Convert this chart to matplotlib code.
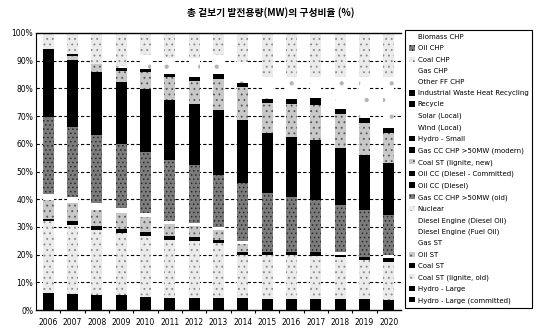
import numpy as np
import matplotlib.pyplot as plt
from matplotlib.patches import Patch

plt.rcParams['font.family'] = ['DejaVu Sans']
plt.rcParams['hatch.linewidth'] = 0.6

years = ['2006', '2007', '2008', '2009', '2010', '2011', '2012', '2013',
         '2014', '2015', '2016', '2017', '2018', '2019', '2020']

# share of installed capacity (%), one list per technology
hydro_large_committed = [0, 0, 0, 0, 0, 0, 0, 0, 0, 0, 0, 0, 0, 0, 0]
hydro_large = [6.0, 5.8, 5.5, 5.5, 4.8, 4.5, 4.5, 4.5, 4.5, 3.9, 3.9, 4.0, 4.0, 4.0, 3.6]
coal_lignite_old = [26.0, 24.9, 23.4, 22.2, 21.9, 20.8, 20.4, 19.8, 15.3, 16.1, 16.1, 15.6, 15.0, 14.0, 13.9]
coal_st = [1.0, 1.4, 1.4, 1.4, 1.6, 1.4, 1.6, 1.0, 1.0, 1.0, 1.0, 1.2, 0.9, 1.0, 1.2]
oil_st = [6.7, 6.5, 5.8, 5.8, 5.4, 4.3, 4.0, 3.7, 3.2, 0, 0, 0, 0, 0, 0]
gas_st = [2.3, 2.3, 2.6, 1.8, 1.4, 1.0, 1.0, 1.0, 1.0, 0, 0, 0, 0.9, 0, 1.1]
diesel_fuel_oil = [0, 0, 0, 0, 0, 0, 0, 0, 0, 0, 0, 0, 0, 0, 0]
diesel_diesel_oil = [0, 0, 0, 0, 0, 0, 0, 0, 0, 0, 0, 0, 0, 0, 0]
nuclear = [0, 0, 0, 0, 0, 0, 0, 0, 0, 0, 0, 0, 0, 0, 0]
gas_cc_old = [27.8, 25.3, 24.5, 23.2, 22.1, 22.2, 20.8, 18.7, 20.7, 21.1, 19.9, 18.9, 17.1, 17.1, 14.5]
oil_cc_diesel = [24.3, 24.1, 22.8, 22.5, 22.5, 21.6, 22.1, 23.5, 22.9, 21.7, 21.7, 21.7, 20.5, 19.9, 18.7]
oil_cc_committed = [0, 0, 0, 0, 0, 0, 0, 0, 0, 0, 0, 0, 0, 0, 0]
coal_lignite_new = [0, 1.5, 2.7, 3.9, 6.3, 8.2, 8.4, 11.1, 11.8, 10.8, 11.8, 12.6, 12.4, 11.4, 10.8]
gas_cc_modern = [0, 0.7, 0, 0.9, 0.9, 1.2, 1.4, 1.8, 1.4, 1.6, 1.8, 2.6, 1.8, 2.0, 1.8]
hydro_small = [0, 0, 0, 0, 0, 0, 0, 0, 0, 0, 0, 0, 0, 0, 0]
wind_local = [0, 0, 0, 0.8, 5.1, 5.8, 6.8, 6.9, 7.8, 7.8, 7.8, 7.4, 11.4, 14.6, 18.4]
solar_local = [0, 0, 0, 0, 0, 0, 0, 0, 0, 0, 0, 0, 0, 0, 0]
recycle = [0, 0, 0, 0, 0, 0, 0, 0, 0, 0, 0, 0, 0, 0, 0]
industrial_waste_heat = [0, 0, 0, 0, 0, 0, 0, 0, 0, 0, 0, 0, 0, 0, 0]
other_ff_chp = [0, 0, 0, 0, 0, 0, 0, 0, 0, 0, 0, 0, 0, 0, 0]
gas_chp = [0, 0, 0, 0, 0, 0, 0, 0, 0, 0, 0, 0, 0, 0, 0]
coal_chp = [5.9, 7.5, 11.3, 12.0, 8.0, 9.0, 9.0, 8.0, 10.4, 16.0, 16.0, 16.0, 16.0, 16.0, 16.0]
oil_chp = [0, 0, 0, 0, 0, 0, 0, 0, 0, 0, 0, 0, 0, 0, 0]
biomass_chp = [0, 0, 0, 0, 0, 0, 0, 0, 0, 0, 0, 0, 0, 0, 0]

# fill styles imitating the printed screen tones
fills = {
    'black': dict(facecolor='black', edgecolor='black'),
    'dark': dict(facecolor='#7c7c7c', edgecolor='#2a2a2a', hatch='....'),
    'medium': dict(facecolor='#c8c8c8', edgecolor='#555555', hatch='...'),
    'light': dict(facecolor='#ebebeb', edgecolor='#888888', hatch='...'),
    'sparse': dict(facecolor='white', edgecolor='#b4b4b4', hatch='.'),
    'white': dict(facecolor='white', edgecolor='white'),
}

# bottom of the stack first
series = [
    ('Hydro - Large (committed)', hydro_large_committed, 'black'),
    ('Hydro - Large', hydro_large, 'black'),
    ('Coal ST (lignite, old)', coal_lignite_old, 'light'),
    ('Coal ST', coal_st, 'black'),
    ('Oil ST', oil_st, 'medium'),
    ('Gas ST', gas_st, 'white'),
    ('Diesel Engine (Fuel Oil)', diesel_fuel_oil, 'white'),
    ('Diesel Engine (Diesel Oil)', diesel_diesel_oil, 'white'),
    ('Nuclear', nuclear, 'light'),
    ('Gas CC CHP >50MW (old)', gas_cc_old, 'dark'),
    ('Oil CC (Diesel)', oil_cc_diesel, 'black'),
    ('Oil CC (Diesel - Committed)', oil_cc_committed, 'black'),
    ('Coal ST (lignite, new)', coal_lignite_new, 'medium'),
    ('Gas CC CHP >50MW (modern)', gas_cc_modern, 'black'),
    ('Hydro - Small', hydro_small, 'black'),
    ('Wind (Local)', wind_local, 'sparse'),
    ('Solar (Local)', solar_local, 'white'),
    ('Recycle', recycle, 'black'),
    ('Industrial Waste Heat Recycling', industrial_waste_heat, 'black'),
    ('Other FF CHP', other_ff_chp, 'white'),
    ('Gas CHP', gas_chp, 'white'),
    ('Coal CHP', coal_chp, 'light'),
    ('Oil CHP', oil_chp, 'dark'),
    ('Biomass CHP', biomass_chp, 'white'),
]

fig = plt.figure(figsize=(5.41, 3.28), dpi=100)
ax = fig.add_axes([36 / 541, 1 - 310 / 328, 365 / 541, 277 / 328])

x = np.arange(len(years))
bottom = np.zeros(len(years))
handles = []
for name, vals, style in series:
    vals = np.array(vals, dtype=float)
    ax.bar(x, vals, 0.44, bottom=bottom, linewidth=0, zorder=2, **fills[style])
    handles.append(Patch(linewidth=0, label=name, **fills[style]))
    bottom += vals

ax.set_xlim(-0.5, len(years) - 0.5)
ax.set_ylim(0, 100)
ax.set_yticks(np.arange(0, 101, 10))
ax.set_yticklabels([f'{v}%' for v in range(0, 101, 10)])
ax.set_xticks(x)
ax.set_xticklabels(years)
ax.set_xticks(x[:-1] + 0.5, minor=True)
ax.tick_params(axis='y', length=0, pad=2, labelsize=5.5)
ax.tick_params(axis='x', which='major', length=0, pad=6, labelsize=5.5)
ax.tick_params(axis='x', which='minor', length=2, width=0.8, direction='out')

for yv in range(10, 100, 10):
    ax.axhline(yv, color='black', lw=0.8, ls=(0, (3, 2)), zorder=1)

ax.spines['right'].set_visible(False)
ax.spines['left'].set_linestyle((0, (1, 1)))
ax.spines['left'].set_linewidth(0.8)
ax.spines['top'].set_linewidth(1.0)
ax.spines['bottom'].set_linewidth(1.0)

fig.text(0.5, 1 - 13 / 328, '총 겉보기 발전용량(MW)의 구성비율 (%)', ha='center', va='center',
         fontsize=7, fontweight='bold', family=['Noto Sans CJK KR', 'DejaVu Sans'])

leg = fig.legend(handles[::-1], [s[0] for s in series][::-1], loc='upper left',
                 bbox_to_anchor=(405 / 541, 1 - 30 / 328), borderaxespad=0,
                 fontsize=5, handlelength=0.8, handleheight=0.8, handletextpad=0.4,
                 labelspacing=0.74, borderpad=0.6, fancybox=False, framealpha=1)
leg.get_frame().set_edgecolor('black')
leg.get_frame().set_linewidth(0.8)

fig.savefig('out.png', dpi=100)
